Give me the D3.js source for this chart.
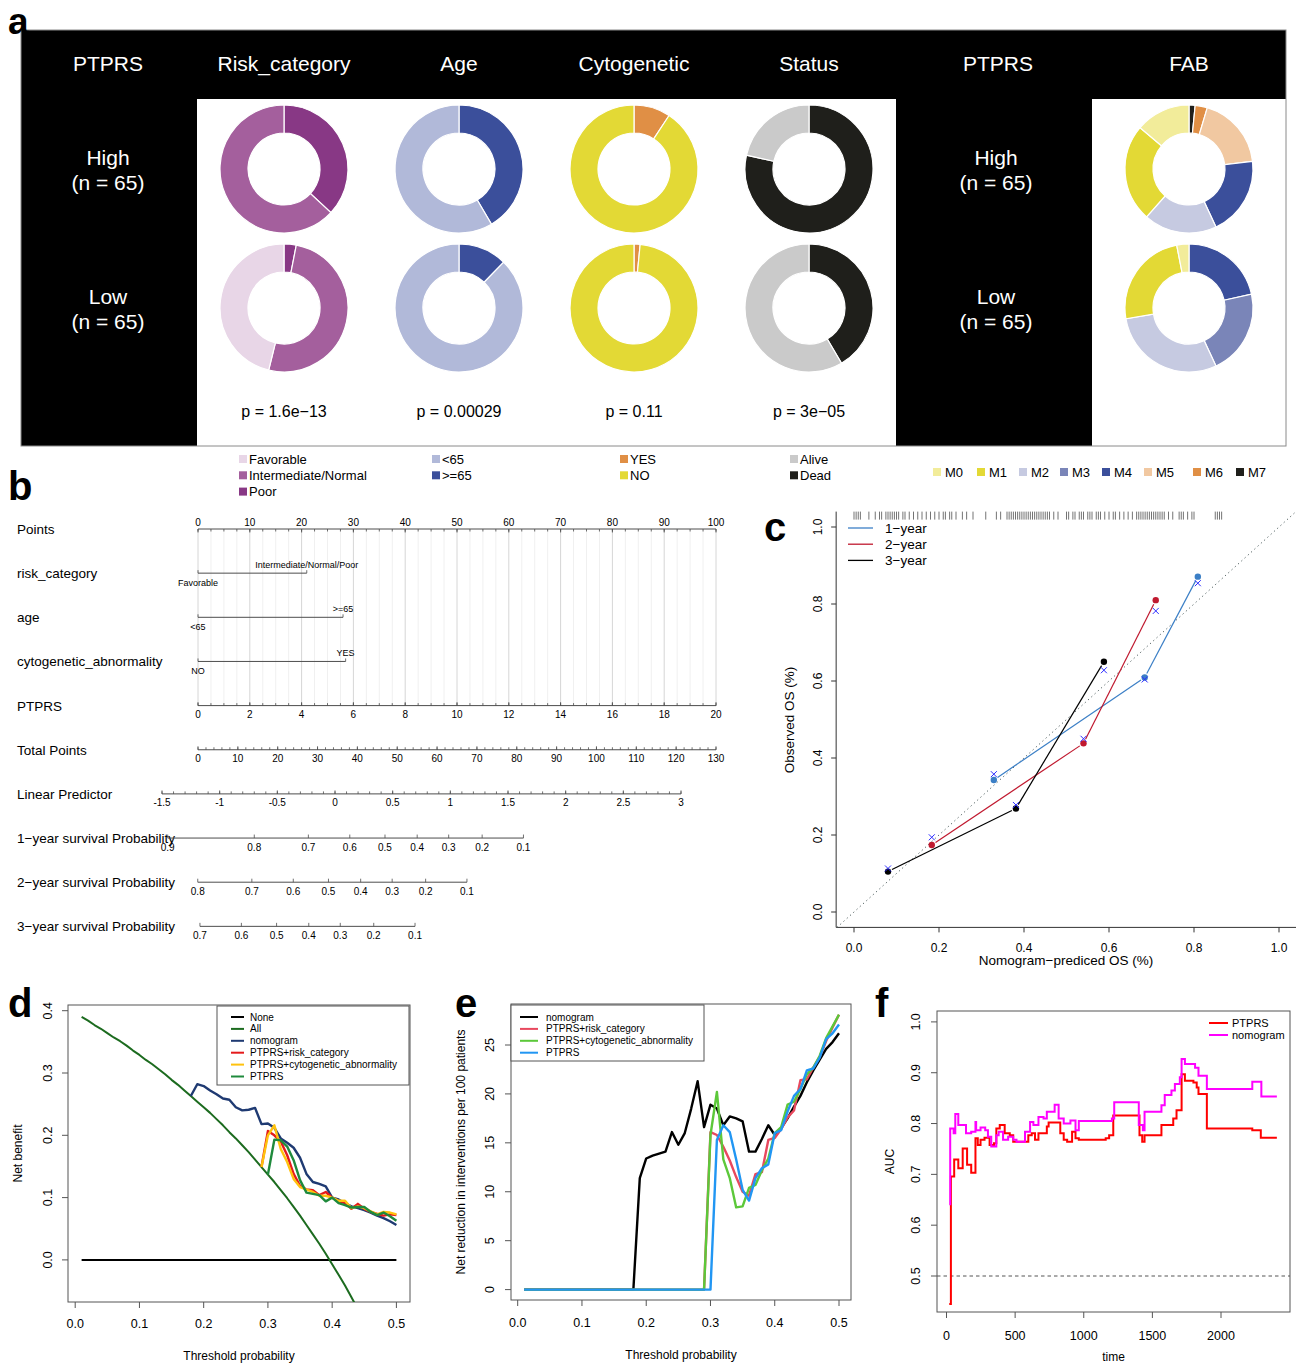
<!DOCTYPE html>
<html>
<head>
<meta charset="utf-8">
<script src="https://cdn.jsdelivr.net/npm/d3@7"></script>
<style>
  body { margin: 0; background: #fff; }
  svg text { font-family: "Liberation Sans", Arial, sans-serif; fill: #000; }
</style>
</head>
<body>
<div id="chart"></div>
<script>
// ---------- panel a: donut data (counts per group, n = 65 each) ----------
const riskLevels = ["Favorable", "Intermediate/Normal", "Poor"];
const riskColors = ["#e8d6e7", "#a45f9d", "#883885"];
const riskHigh = [0, 41, 24];
const riskLow = [30, 33, 2];

const ageLevels = ["<65", ">=65"];
const ageColors = ["#b1b9d9", "#3b4f9b"];
const ageHigh = [38, 27];
const ageLow = [57, 8];

const cytoLevels = ["YES", "NO"];
const cytoColors = ["#e08f45", "#e3d935"];
const cytoHigh = [6, 59];
const cytoLow = [1, 64];

const statusLevels = ["Alive", "Dead"];
const statusColors = ["#cacaca", "#1f1f1b"];
const statusHigh = [14, 51];
const statusLow = [38, 27];

const fabLevels = ["M0", "M1", "M2", "M3", "M4", "M5", "M6", "M7"];
const fabColors = ["#f2ec9a", "#e3d935", "#c6cae1", "#7a85b8", "#3b4f9b", "#f1c8a1", "#e08f45", "#1f1f1b"];
const fabHigh = [9, 16, 12, 0, 13, 12, 2, 1];
const fabLow = [2, 16, 19, 14, 14, 0, 0, 0];

const headers = ["PTPRS", "Risk_category", "Age", "Cytogenetic", "Status", "PTPRS", "FAB"];
const groupLabels = ["High", "Low"];
const pValues = ["p = 1.6e\u221213", "p = 0.00029", "p = 0.11", "p = 3e\u221205"];

// ---------- panel b: nomogram ----------
const nomoRows = ["Points", "risk_category", "age", "cytogenetic_abnormality", "PTPRS", "Total Points",
  "Linear Predictor", "1\u2212year survival Probability", "2\u2212year survival Probability", "3\u2212year survival Probability"];
const covLow = ["Favorable", "<65", "NO"];
const covHigh = ["Intermediate/Normal/Poor", ">=65", "YES"];
const covPoints = [21, 28, 28.5];
const survTicks1 = [0.9, 0.8, 0.7, 0.6, 0.5, 0.4, 0.3, 0.2, 0.1];
const survTicks2 = [0.8, 0.7, 0.6, 0.5, 0.4, 0.3, 0.2, 0.1];
const survTicks3 = [0.7, 0.6, 0.5, 0.4, 0.3, 0.2, 0.1];
const baseHaz = [-0.80, -0.31, 0.14];   // log(-log S0(t)) offset for 1, 2, 3 years

// ---------- panel c: calibration ----------
const calNames = ["1\u2212year", "2\u2212year", "3\u2212year"];
const calColors = ["#3b7fc6", "#c0192f", "#000000"];
const calPred1 = [0.329, 0.684, 0.809], calObs1 = [0.343, 0.609, 0.871], calCorr1 = [0.358, 0.604, 0.854];
const calPred2 = [0.183, 0.540, 0.710], calObs2 = [0.174, 0.438, 0.810], calCorr2 = [0.194, 0.450, 0.782];
const calPred3 = [0.080, 0.381, 0.588], calObs3 = [0.105, 0.269, 0.650], calCorr3 = [0.113, 0.278, 0.628];
const rugValues = [0.0, 0.005, 0.01, 0.015, 0.035, 0.05, 0.06, 0.065, 0.075, 0.08, 0.085, 0.09, 0.095, 0.10, 0.105,
  0.115, 0.12, 0.13, 0.14, 0.15, 0.16, 0.17, 0.18, 0.19, 0.20, 0.21, 0.215, 0.225, 0.23, 0.24, 0.255, 0.265, 0.28,
  0.31, 0.335, 0.345, 0.36, 0.365, 0.37, 0.375, 0.38, 0.385, 0.39, 0.395, 0.40, 0.405, 0.41, 0.415, 0.42, 0.425,
  0.43, 0.435, 0.44, 0.445, 0.45, 0.455, 0.46, 0.47, 0.48, 0.50, 0.505, 0.515, 0.52, 0.53, 0.535, 0.54, 0.55,
  0.555, 0.56, 0.57, 0.575, 0.58, 0.59, 0.60, 0.61, 0.615, 0.625, 0.635, 0.645, 0.655, 0.665, 0.67, 0.675, 0.68,
  0.685, 0.69, 0.695, 0.70, 0.705, 0.71, 0.715, 0.72, 0.725, 0.73, 0.74, 0.75, 0.765, 0.77, 0.775, 0.785, 0.795,
  0.80, 0.85, 0.855, 0.86, 0.865];

// ---------- panels d, e: decision curves ----------
const thresholds = [0.01, 0.02, 0.03, 0.04, 0.05, 0.06, 0.07, 0.08, 0.09, 0.10,
  0.11, 0.12, 0.13, 0.14, 0.15, 0.16, 0.17, 0.18, 0.19, 0.20,
  0.21, 0.22, 0.23, 0.24, 0.25, 0.26, 0.27, 0.28, 0.29, 0.30,
  0.31, 0.32, 0.33, 0.34, 0.35, 0.36, 0.37, 0.38, 0.39, 0.40,
  0.41, 0.42, 0.43, 0.44, 0.45, 0.46, 0.47, 0.48, 0.49, 0.50];
const dNames = ["None", "All", "nomogram", "PTPRS+risk_category", "PTPRS+cytogenetic_abnormality", "PTPRS"];
const dColors = ["#000000", "#1c6b1f", "#1f3a72", "#e41a1c", "#ffc20e", "#1f8a3c"];
const nbNone = [0, 0, 0, 0, 0, 0, 0, 0, 0, 0, 0, 0, 0, 0, 0, 0, 0, 0, 0, 0, 0, 0, 0, 0, 0,
  0, 0, 0, 0, 0, 0, 0, 0, 0, 0, 0, 0, 0, 0, 0, 0, 0, 0, 0, 0, 0, 0, 0, 0, 0];
const nbAll = [0.390, 0.384, 0.377, 0.371, 0.364, 0.357, 0.351, 0.344, 0.336, 0.329,
  0.321, 0.314, 0.306, 0.298, 0.289, 0.281, 0.272, 0.263, 0.254, 0.245,
  0.236, 0.226, 0.216, 0.205, 0.195, 0.184, 0.173, 0.161, 0.149, 0.137,
  0.125, 0.112, 0.099, 0.085, 0.071, 0.056, 0.041, 0.026, 0.010, -0.007,
  -0.024, -0.041, -0.060, -0.079, -0.098, -0.119, -0.140, -0.162, -0.184, -0.208];
const nbNomogram = [null, null, null, null, null, null, null, null, null, null,
  null, null, null, null, null, null, null, 0.263, 0.282, 0.279,
  0.272, 0.266, 0.259, 0.257, 0.245, 0.240, 0.241, 0.244, 0.218, 0.219,
  0.212, 0.195, 0.188, 0.180, 0.164, 0.138, 0.125, 0.122, 0.118, 0.100,
  0.097, 0.091, 0.086, 0.083, 0.080, 0.076, 0.071, 0.067, 0.062, 0.056];
const nbRisk = [null, null, null, null, null, null, null, null, null, null,
  null, null, null, null, null, null, null, null, null, null,
  null, null, null, null, null, null, null, null, 0.149, 0.207,
  0.200, 0.190, 0.168, 0.138, 0.119, 0.113, 0.112, 0.104, 0.109, 0.100,
  0.094, 0.092, 0.082, 0.090, 0.082, 0.077, 0.074, 0.071, 0.073, 0.072];
const nbCyto = [null, null, null, null, null, null, null, null, null, null,
  null, null, null, null, null, null, null, null, null, null,
  null, null, null, null, null, null, null, null, 0.149, 0.200,
  0.216, 0.178, 0.157, 0.130, 0.117, 0.113, 0.109, 0.103, 0.103, 0.100,
  0.095, 0.095, 0.083, 0.086, 0.083, 0.078, 0.073, 0.077, 0.076, 0.073];
const nbPtprs = [null, null, null, null, null, null, null, null, null, null,
  null, null, null, null, null, null, null, null, null, null,
  null, null, null, null, null, null, null, null, null, 0.137,
  0.193, 0.192, 0.182, 0.160, 0.128, 0.108, 0.106, 0.104, 0.094, 0.100,
  0.091, 0.088, 0.084, 0.085, 0.085, 0.077, 0.072, 0.076, 0.070, 0.063];

const eNames = ["nomogram", "PTPRS+risk_category", "PTPRS+cytogenetic_abnormality", "PTPRS"];
const eColors = ["#000000", "#e8485e", "#5cc83a", "#2196f3"];
const redNomogram = [0, 0, 0, 0, 0, 0, 0, 0, 0, 0, 0, 0, 0, 0, 0, 0, 0, 0,
  11.4, 13.4, 13.7, 13.9, 14.1, 16.1, 14.8, 16.0, 18.5, 21.3, 16.6, 18.9, 18.5, 16.8, 17.7, 17.5, 17.2,
  14.1, 14.1, 15.4, 16.8, 15.8, 16.5, 17.5, 18.7, 19.8, 21.2, 22.4, 23.5, 24.6, 25.3, 26.2];
const redRisk = [0, 0, 0, 0, 0, 0, 0, 0, 0, 0, 0, 0, 0, 0, 0, 0, 0, 0, 0, 0, 0, 0, 0, 0, 0, 0, 0, 0, 0,
  16.1, 15.8, 14.6, 13.2, 11.5, 10.0, 9.6, 11.8, 12.0, 15.3, 15.5, 16.4, 17.6, 18.3, 21.4, 21.5, 22.7,
  23.8, 25.4, 26.8, 28.1];
const redCyto = [0, 0, 0, 0, 0, 0, 0, 0, 0, 0, 0, 0, 0, 0, 0, 0, 0, 0, 0, 0, 0, 0, 0, 0, 0, 0, 0, 0, 0,
  15.8, 20.2, 13.3, 11.4, 8.4, 8.5, 10.4, 10.7, 12.2, 13.4, 16.0, 16.6, 18.9, 19.2, 20.5, 22.0, 22.7,
  23.9, 25.7, 26.9, 28.1];
const redPtprs = [0, 0, 0, 0, 0, 0, 0, 0, 0, 0, 0, 0, 0, 0, 0, 0, 0, 0, 0, 0, 0, 0, 0, 0, 0, 0, 0, 0, 0, 0,
  15.3, 16.8, 16.1, 13.3, 10.2, 9.1, 11.4, 12.4, 12.8, 16.0, 16.3, 18.2, 19.8, 20.5, 22.4, 22.6,
  23.7, 25.6, 26.2, 27.1];

// ---------- panel f: time-dependent AUC (step functions) ----------
const fNames = ["PTPRS", "nomogram"];
const fColors = ["#ff0000", "#ff00ff"];
const aucTimePtprs = [20, 32, 56, 86, 118, 150, 180, 211, 228, 248, 277, 314, 346, 363, 388, 424, 461, 486,
  596, 621, 645, 670, 731, 744, 829, 854, 879, 915, 940, 964, 1160, 1185, 1215, 1406, 1426, 1443, 1566, 1652,
  1676, 1713, 1737, 1799, 1823, 1836, 1897, 2228, 2290, 2407];
const aucPtprs = [0.445, 0.696, 0.729, 0.712, 0.751, 0.719, 0.703, 0.771, 0.758, 0.768, 0.772, 0.758, 0.761,
  0.790, 0.797, 0.781, 0.777, 0.764, 0.777, 0.781, 0.768, 0.781, 0.794, 0.802, 0.781, 0.768, 0.764, 0.784,
  0.771, 0.768, 0.771, 0.777, 0.816, 0.777, 0.764, 0.777, 0.797, 0.810, 0.826, 0.897, 0.884, 0.881, 0.871,
  0.858, 0.790, 0.787, 0.772, 0.772];
const aucTimeNomo = [20, 27, 52, 64, 86, 142, 180, 211, 216, 248, 282, 302, 326, 363, 380, 412, 449, 486, 510,
  572, 609, 633, 670, 707, 731, 788, 817, 854, 903, 940, 964, 1205, 1222, 1401, 1431, 1443, 1566, 1590, 1639,
  1664, 1700, 1713, 1737, 1811, 1836, 1897, 2228, 2294, 2407];
const aucNomo = [0.641, 0.790, 0.781, 0.819, 0.797, 0.781, 0.784, 0.803, 0.787, 0.792, 0.787, 0.774, 0.755,
  0.777, 0.784, 0.768, 0.774, 0.768, 0.764, 0.784, 0.803, 0.797, 0.813, 0.810, 0.823, 0.837, 0.810, 0.800,
  0.806, 0.787, 0.805, 0.810, 0.842, 0.797, 0.787, 0.823, 0.836, 0.856, 0.865, 0.878, 0.891, 0.927, 0.917,
  0.910, 0.894, 0.868, 0.882, 0.853, 0.853];

// =================================================================
const svg = d3.select("#chart").append("svg")
    .attr("width", 1298)
    .attr("height", 1363);

function txt(g, t, x, y, size, anchor = "start") {
    return g.append("text").attr("x", x).attr("y", y).attr("text-anchor", anchor)
        .style("font-size", size + "px").text(t);
}
function vtxt(g, t, x, y, size) {
    return g.append("text").attr("transform", `translate(${x},${y}) rotate(-90)`)
        .attr("text-anchor", "middle").attr("dy", "0.35em").style("font-size", size + "px").text(t);
}
function panelLetter(t, x, y, size = 40) {
    txt(svg, t, x, y, size).style("font-weight", "bold");
}

// ---------------- panel a ----------------
const pa = svg.append("g");
pa.append("rect").attr("x", 21).attr("y", 30).attr("width", 1265).attr("height", 416).attr("fill", "#000");
pa.append("rect").attr("x", 197).attr("y", 99).attr("width", 699).attr("height", 347).attr("fill", "#fff");
pa.append("rect").attr("x", 1092).attr("y", 99).attr("width", 194).attr("height", 347).attr("fill", "#fff");
pa.append("rect").attr("x", 21).attr("y", 30).attr("width", 1265).attr("height", 416)
    .attr("fill", "none").attr("stroke", "#8a8a8a");
panelLetter("a", 8, 33.5, 37);

const headerX = [108, 284, 459, 634, 809, 998, 1189];
headers.forEach((h, i) => txt(pa, h, headerX[i], 71, 21, "middle").style("fill", "#fff"));
const rowY = [169, 308];
[108, 996].forEach(x => {
    groupLabels.forEach((l, r) => {
        txt(pa, l, x, rowY[r] - 4, 21, "middle").style("fill", "#fff");
        txt(pa, "(n = 65)", x, rowY[r] + 21, 21, "middle").style("fill", "#fff");
    });
});

const donutVars = [
    { high: riskHigh, low: riskLow, colors: riskColors, reverse: true, x: 284 },
    { high: ageHigh, low: ageLow, colors: ageColors, reverse: true, x: 459 },
    { high: cytoHigh, low: cytoLow, colors: cytoColors, reverse: false, x: 634 },
    { high: statusHigh, low: statusLow, colors: statusColors, reverse: true, x: 809 },
    { high: fabHigh, low: fabLow, colors: fabColors, reverse: true, x: 1189 }
];
const pie = d3.pie().sort(null).value(d => d.n);
const arc = d3.arc().innerRadius(36).outerRadius(64);
function donut(cx, cy, counts, colors, reverse) {
    let items = counts.map((n, i) => ({ n: n, c: colors[i] }));
    if (reverse) items = items.reverse();
    const g = pa.append("g").attr("transform", `translate(${cx},${cy})`);
    g.selectAll("path")
        .data(pie(items).filter(d => d.data.n > 0))
        .join("path")
        .attr("d", arc)
        .attr("fill", d => d.data.c)
        .attr("stroke", "#fff")
        .attr("stroke-width", 1.2);
}
donutVars.forEach(v => {
    donut(v.x, rowY[0], v.high, v.colors, v.reverse);
    donut(v.x, rowY[1], v.low, v.colors, v.reverse);
});
pValues.forEach((p, i) => txt(pa, p, donutVars[i].x, 417, 16, "middle"));

// legends
const legCols = [
    { levels: riskLevels, colors: riskColors, x: 239 },
    { levels: ageLevels, colors: ageColors, x: 432 },
    { levels: cytoLevels, colors: cytoColors, x: 620 },
    { levels: statusLevels, colors: statusColors, x: 790 }
];
legCols.forEach(col => {
    col.levels.forEach((l, i) => {
        const y = 459 + i * 16.3;
        pa.append("rect").attr("x", col.x).attr("y", y - 4).attr("width", 8).attr("height", 8).attr("fill", col.colors[i]);
        txt(pa, l, col.x + 10, y + 4.5, 13);
    });
});
const fabLegX = [933, 977, 1019, 1060, 1102, 1144, 1193, 1236];
fabLevels.forEach((l, i) => {
    pa.append("rect").attr("x", fabLegX[i]).attr("y", 468).attr("width", 8).attr("height", 8).attr("fill", fabColors[i]);
    txt(pa, l, fabLegX[i] + 12, 477, 13);
});

// ---------------- panel b: nomogram ----------------
panelLetter("b", 8, 500);
const pb = svg.append("g");
const nomoY = i => 529 + i * 44.15;
const ptsX = d3.scaleLinear().domain([0, 100]).range([198, 716]);
const ptprsX = d3.scaleLinear().domain([0, 20]).range([198, 716]);
const totX = d3.scaleLinear().domain([0, 130]).range([198, 716]);
const lpX = d3.scaleLinear().domain([-1.5, 3]).range([162, 681]);
const axisCol = "#4d4d4d";

nomoRows.forEach((r, i) => txt(pb, r, 17, nomoY(i) + 5, 13.5));

// grid
pb.selectAll(".grid").data(d3.range(0, 100.1, 2.5)).join("line")
    .attr("x1", d => ptsX(d)).attr("x2", d => ptsX(d))
    .attr("y1", nomoY(0)).attr("y2", nomoY(4))
    .attr("stroke", d => d % 10 === 0 ? "#d6d6d6" : "#f0f0f0").attr("stroke-width", 1);

function nomoAxis(scale, y, majors, minors, above, fmt) {
    const g = pb.append("g");
    const all = majors.concat(minors).map(scale);
    g.append("line").attr("x1", d3.min(all)).attr("x2", d3.max(all)).attr("y1", y).attr("y2", y)
        .attr("stroke", axisCol);
    const dir = above ? 1 : -1;
    g.selectAll(".mi").data(minors).join("line")
        .attr("x1", d => scale(d)).attr("x2", d => scale(d)).attr("y1", y).attr("y2", y + dir * 2.5)
        .attr("stroke", axisCol).attr("stroke-width", 0.8);
    g.selectAll(".ma").data(majors).join("line")
        .attr("x1", d => scale(d)).attr("x2", d => scale(d)).attr("y1", y).attr("y2", y + dir * 3.5)
        .attr("stroke", axisCol).attr("stroke-width", 0.8);
    g.selectAll("text").data(majors).join("text")
        .attr("x", d => scale(d)).attr("y", above ? y - 3.5 : y + 12.5)
        .attr("text-anchor", "middle").style("font-size", "10px").text(fmt);
}
nomoAxis(ptsX, nomoY(0), d3.range(0, 101, 10), d3.range(0, 101, 2.5), true, d => d);

covPoints.forEach((p, i) => {
    const y = nomoY(i + 1);
    pb.append("line").attr("x1", ptsX(0)).attr("x2", ptsX(p)).attr("y1", y).attr("y2", y).attr("stroke", axisCol);
    [0, p].forEach(v => pb.append("line").attr("x1", ptsX(v)).attr("x2", ptsX(v))
        .attr("y1", y).attr("y2", y - 3).attr("stroke", axisCol).attr("stroke-width", 0.8));
    txt(pb, covHigh[i], ptsX(p), y - 5, 9, "middle");
    txt(pb, covLow[i], ptsX(0), y + 13, 9, "middle");
});

nomoAxis(ptprsX, nomoY(4), d3.range(0, 21, 2), d3.range(0, 20.1, 0.5), false, d => d);
nomoAxis(totX, nomoY(5), d3.range(0, 131, 10), d3.range(0, 131, 2), false, d => d);
nomoAxis(lpX, nomoY(6), d3.range(-1.5, 3.01, 0.5), d3.range(-1.5, 3.01, 0.1), false, d => +d.toFixed(1));

[survTicks1, survTicks2, survTicks3].forEach((ticks, k) => {
    const survX = p => lpX(Math.log(-Math.log(p)) - baseHaz[k]);
    nomoAxis(survX, nomoY(7 + k), ticks, [], false, d => d);
});

// ---------------- panel c: calibration ----------------
panelLetter("c", 764, 541);
const pc = svg.append("g");
const cX = d3.scaleLinear().domain([0, 1]).range([854, 1279]);
const cY = d3.scaleLinear().domain([0, 1]).range([912, 527]);
const cL = cX(-0.042), cR = cX(1.04), cT = cY(1.04), cB = cY(-0.04);
pc.append("path").attr("d", `M${cL},${cT}V${cB}H${cR}`).attr("fill", "none").attr("stroke", "#333");
const cTicks = d3.range(0, 1.01, 0.2);
pc.selectAll(".xt").data(cTicks).join("line")
    .attr("x1", d => cX(d)).attr("x2", d => cX(d)).attr("y1", cB).attr("y2", cB + 5).attr("stroke", "#333");
pc.selectAll(".yt").data(cTicks).join("line")
    .attr("y1", d => cY(d)).attr("y2", d => cY(d)).attr("x1", cL).attr("x2", cL - 5).attr("stroke", "#333");
cTicks.forEach(v => {
    txt(pc, v.toFixed(1), cX(v), 952, 12, "middle");
    vtxt(pc, v.toFixed(1), 817.5, cY(v), 12);
});
txt(pc, "Nomogram\u2212prediced OS (%)", 1066, 965, 13.5, "middle");
vtxt(pc, "Observed OS (%)", 789, 720, 13.5);

pc.append("line").attr("x1", cX(-0.04)).attr("y1", cY(-0.04)).attr("x2", cX(1.04)).attr("y2", cY(1.04))
    .attr("stroke", "#4a5a5a").attr("stroke-dasharray", "1.2,3.2");

pc.selectAll(".rug").data(rugValues).join("line")
    .attr("x1", d => cX(d)).attr("x2", d => cX(d)).attr("y1", cT).attr("y2", cT + 8)
    .attr("stroke", "#000").attr("stroke-opacity", 0.55).attr("stroke-width", 1);

const calSets = [
    [calPred1, calObs1, calCorr1], [calPred2, calObs2, calCorr2], [calPred3, calObs3, calCorr3]
];
calSets.forEach(([pred, obs, corr], k) => {
    const pts = pred.map((p, i) => [cX(p), cY(obs[i])]);
    for (let i = 0; i < pts.length - 1; i++) {
        const [x1, y1] = pts[i], [x2, y2] = pts[i + 1];
        const len = Math.hypot(x2 - x1, y2 - y1), g = 4.5;
        const ux = (x2 - x1) / len, uy = (y2 - y1) / len;
        pc.append("line").attr("x1", x1 + ux * g).attr("y1", y1 + uy * g)
            .attr("x2", x2 - ux * g).attr("y2", y2 - uy * g)
            .attr("stroke", calColors[k]).attr("stroke-width", 1.2);
    }
    pc.selectAll(null).data(pts).join("circle")
        .attr("cx", d => d[0]).attr("cy", d => d[1]).attr("r", 3.2).attr("fill", calColors[k]);
    pred.forEach((p, i) => {
        const x = cX(p), y = cY(corr[i]), s = 3;
        pc.append("path").attr("d", `M${x - s},${y - s}L${x + s},${y + s}M${x - s},${y + s}L${x + s},${y - s}`)
            .attr("stroke", "#2b2bff").attr("stroke-width", 1);
    });
});
calNames.forEach((n, i) => {
    const y = 528 + i * 16.2;
    pc.append("line").attr("x1", 848).attr("x2", 873).attr("y1", y).attr("y2", y)
        .attr("stroke", calColors[i]).attr("stroke-width", 1.3);
    txt(pc, n, 885, y + 5, 13.5);
});

// ---------------- shared R-style box plot helper ----------------
function rPlot(opts) {
    const g = svg.append("g");
    const { x, y, box, xTicks, yTicks, xFmt, yFmt } = opts;
    const id = "clip" + opts.id;
    svg.append("clipPath").attr("id", id).append("rect")
        .attr("x", box[0]).attr("y", box[1]).attr("width", box[2] - box[0]).attr("height", box[3] - box[1]);
    g.append("rect").attr("x", box[0]).attr("y", box[1]).attr("width", box[2] - box[0]).attr("height", box[3] - box[1])
        .attr("fill", "none").attr("stroke", "#555");
    g.selectAll(".xt").data(xTicks).join("line")
        .attr("x1", d => x(d)).attr("x2", d => x(d)).attr("y1", box[3]).attr("y2", box[3] + 6).attr("stroke", "#555");
    g.selectAll(".yt").data(yTicks).join("line")
        .attr("y1", d => y(d)).attr("y2", d => y(d)).attr("x1", box[0]).attr("x2", box[0] - 6).attr("stroke", "#555");
    xTicks.forEach(v => txt(g, xFmt(v), x(v), opts.xLabY, 12.5, "middle"));
    yTicks.forEach(v => vtxt(g, yFmt(v), opts.yLabX, y(v), 12.5));
    txt(g, opts.xTitle, (box[0] + box[2]) / 2, opts.xTitleY, 12, "middle");
    vtxt(g, opts.yTitle, opts.yTitleX, (box[1] + box[3]) / 2, 12);
    const plot = g.append("g").attr("clip-path", `url(#${id})`);
    return { g, plot };
}

// ---------------- panel d: net benefit ----------------
panelLetter("d", 8, 1017);
const dX = d3.scaleLinear().domain([0, 0.5]).range([75.2, 396.4]);
const dY = d3.scaleLinear().domain([0, 0.4]).range([1259.9, 1010.7]);
const pd = rPlot({
    id: "d", x: dX, y: dY, box: [68, 1005, 410, 1302],
    xTicks: d3.range(0, 0.51, 0.1), yTicks: d3.range(0, 0.41, 0.1),
    xFmt: v => v.toFixed(1), yFmt: v => v.toFixed(1),
    xLabY: 1328, yLabX: 48, xTitle: "Threshold probability", xTitleY: 1360,
    yTitle: "Net benefit", yTitleX: 18
});
const dSeries = [nbNone, nbAll, nbNomogram, nbRisk, nbCyto, nbPtprs];
const dLine = d3.line().defined(d => d[1] != null).x(d => dX(d[0])).y(d => dY(d[1]));
dSeries.forEach((s, k) => {
    pd.plot.append("path").datum(thresholds.map((t, i) => [t, s[i]]))
        .attr("d", dLine).attr("fill", "none").attr("stroke", dColors[k])
        .attr("stroke-width", k < 2 ? 2 : 2.4).attr("stroke-linejoin", "round");
});
pd.g.append("rect").attr("x", 217).attr("y", 1006).attr("width", 192).attr("height", 79)
    .attr("fill", "#fff").attr("stroke", "#555");
dNames.forEach((n, i) => {
    const y = 1017 + i * 11.9;
    pd.g.append("line").attr("x1", 231).attr("x2", 244).attr("y1", y).attr("y2", y)
        .attr("stroke", dColors[i]).attr("stroke-width", 2);
    txt(pd.g, n, 250, y + 3.5, 10);
});

// ---------------- panel e: net reduction ----------------
panelLetter("e", 455, 1017);
const eX = d3.scaleLinear().domain([0, 0.5]).range([517.7, 839]);
const eY = d3.scaleLinear().domain([0, 25]).range([1289.6, 1045]);
const pe = rPlot({
    id: "e", x: eX, y: eY, box: [511, 1004, 851, 1300],
    xTicks: d3.range(0, 0.51, 0.1), yTicks: d3.range(0, 26, 5),
    xFmt: v => v.toFixed(1), yFmt: v => v,
    xLabY: 1327, yLabX: 489.5, xTitle: "Threshold probability", xTitleY: 1359,
    yTitle: "Net reduction in interventions per 100 patients", yTitleX: 461
});
const eSeries = [redNomogram, redRisk, redCyto, redPtprs];
const eLine = d3.line().x(d => eX(d[0])).y(d => eY(d[1]));
eSeries.forEach((s, k) => {
    pe.plot.append("path").datum(thresholds.map((t, i) => [t, s[i]]))
        .attr("d", eLine).attr("fill", "none").attr("stroke", eColors[k])
        .attr("stroke-width", 2.4).attr("stroke-linejoin", "round");
});
pe.g.append("rect").attr("x", 511).attr("y", 1005).attr("width", 193).attr("height", 56)
    .attr("fill", "#fff").attr("stroke", "#555");
eNames.forEach((n, i) => {
    const y = 1017 + i * 11.9;
    pe.g.append("line").attr("x1", 520).attr("x2", 538).attr("y1", y).attr("y2", y)
        .attr("stroke", eColors[i]).attr("stroke-width", 2);
    txt(pe.g, n, 546, y + 3.5, 10);
});

// ---------------- panel f: time-dependent AUC ----------------
panelLetter("f", 875, 1017);
const fX = d3.scaleLinear().domain([0, 2000]).range([946.5, 1221]);
const fY = d3.scaleLinear().domain([0.5, 1]).range([1276, 1021.9]);
const pf = rPlot({
    id: "f", x: fX, y: fY, box: [937, 1011, 1290, 1312],
    xTicks: [0, 500, 1000, 1500, 2000], yTicks: d3.range(0.5, 1.01, 0.1),
    xFmt: v => v, yFmt: v => v.toFixed(1),
    xLabY: 1340, yLabX: 915.5, xTitle: "time", xTitleY: 1361,
    yTitle: "AUC", yTitleX: 890
});
pf.plot.append("line").attr("x1", 937).attr("x2", 1290).attr("y1", fY(0.5)).attr("y2", fY(0.5))
    .attr("stroke", "#555").attr("stroke-dasharray", "3.5,3");
const fLine = d3.line().curve(d3.curveStepAfter).x(d => fX(d[0])).y(d => fY(d[1]));
[[aucTimePtprs, aucPtprs], [aucTimeNomo, aucNomo]].forEach(([t, a], k) => {
    pf.plot.append("path").datum(t.map((v, i) => [v, a[i]]))
        .attr("d", fLine).attr("fill", "none").attr("stroke", fColors[k]).attr("stroke-width", 2);
});
fNames.forEach((n, i) => {
    const y = 1023 + i * 12;
    pf.g.append("line").attr("x1", 1209).attr("x2", 1228).attr("y1", y).attr("y2", y)
        .attr("stroke", fColors[i]).attr("stroke-width", 2);
    txt(pf.g, n, 1232, y + 4, 11);
});
</script>
</body>
</html>
